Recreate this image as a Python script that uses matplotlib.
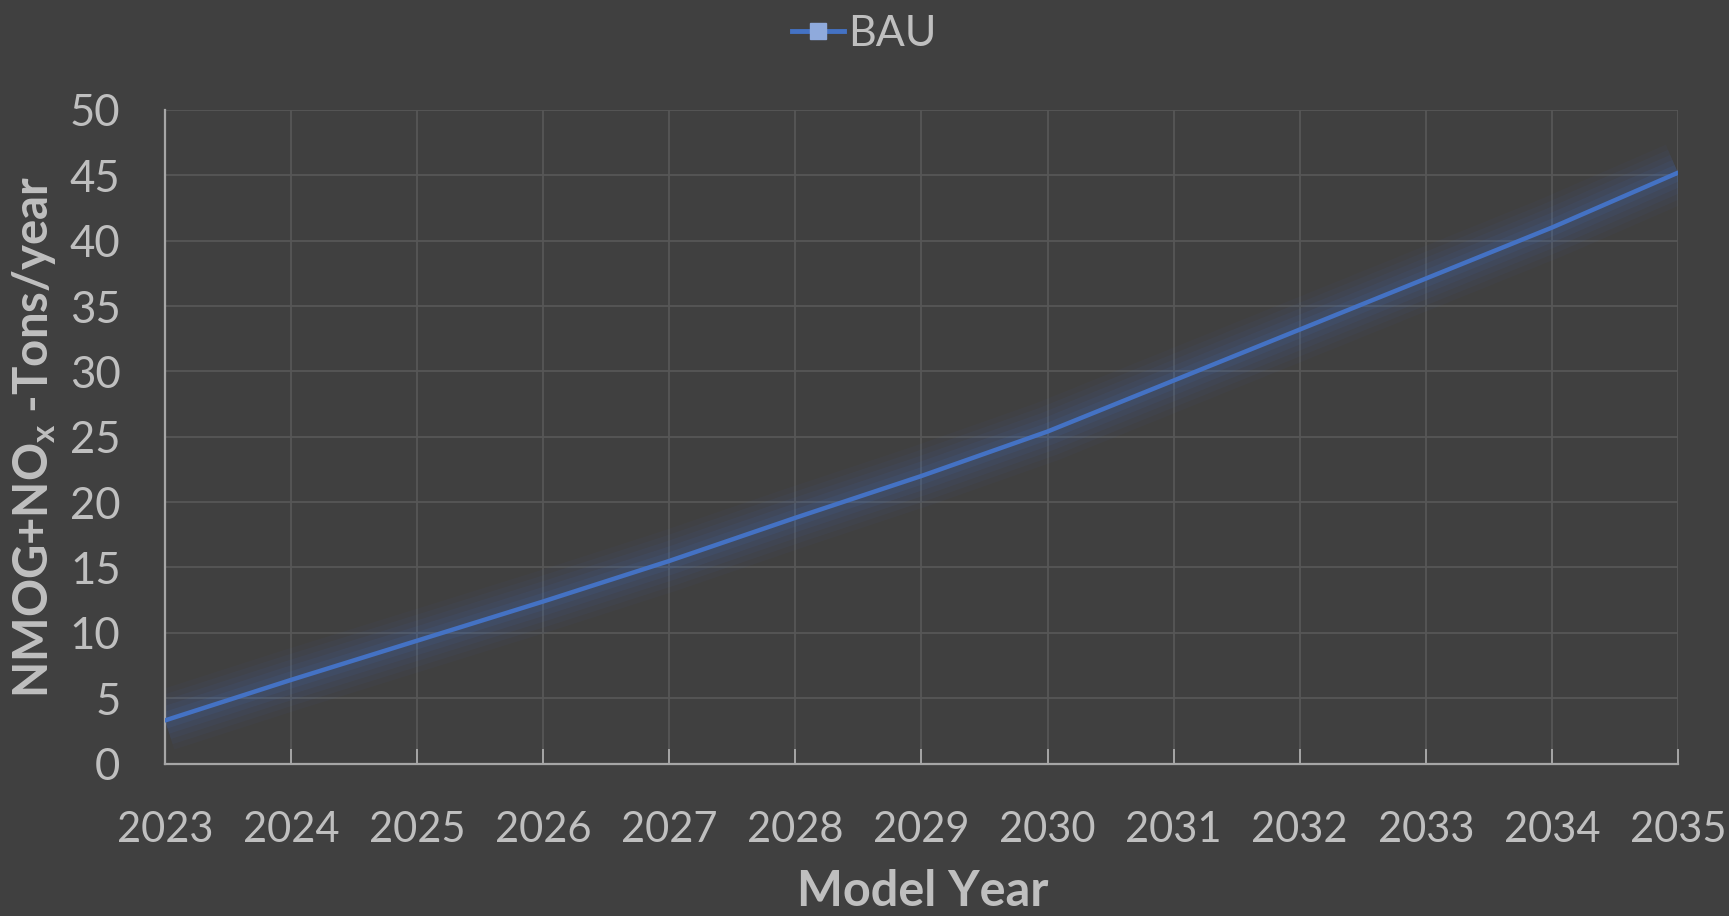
import matplotlib
matplotlib.use('Agg')
import matplotlib.pyplot as plt
from matplotlib.lines import Line2D

# values
years = [2023, 2024, 2025, 2026, 2027, 2028, 2029, 2030, 2031, 2032, 2033, 2034, 2035]
bau = [3.3, 6.4, 9.4, 12.4, 15.5, 18.8, 22.0, 25.4, 29.3, 33.2, 37.1, 41.0, 45.2]
y_ticks = [0, 5, 10, 15, 20, 25, 30, 35, 40, 45, 50]
series_name = 'BAU'

bg = '#404040'
txt = '#BFBFBF'
grid_col = '#575757'
blue = '#4472C4'

plt.rcParams['font.family'] = ['Lato', 'DejaVu Sans']
plt.rcParams['mathtext.fontset'] = 'custom'
plt.rcParams['mathtext.rm'] = 'Lato'
plt.rcParams['mathtext.default'] = 'regular'

fig = plt.figure(figsize=(17.29, 9.16), dpi=100, facecolor=bg)
ax = fig.add_axes([0.0954, 0.1664, 0.8751, 0.7136], facecolor=bg)

# soft glow under the line
for w, a in [(44, 0.04), (36, 0.05), (28, 0.06), (20, 0.08), (12, 0.10)]:
    ax.plot(years, bau, color=blue, lw=w, alpha=a, solid_capstyle='butt', zorder=2)
ax.plot(years, bau, color=blue, lw=3.2, solid_capstyle='round', zorder=3)

ax.set_xlim(years[0], years[-1])
ax.set_ylim(0, 50)
ax.set_xticks(years)
ax.set_yticks(y_ticks)

ax.grid(True, color=grid_col, lw=1.3)
ax.set_axisbelow(True)
for s in ['top', 'right']:
    ax.spines[s].set_visible(False)
for s in ['left', 'bottom']:
    ax.spines[s].set_color('#A6A6A6')
    ax.spines[s].set_linewidth(1.6)

ax.tick_params(axis='x', direction='in', length=11, width=1.4, color='#A6A6A6',
               labelsize=30, labelcolor=txt, pad=34)
ax.tick_params(axis='y', length=0, labelsize=31.5, labelcolor=txt, pad=32)

ax.set_ylabel(r'NMOG+NO$_{x}$ -Tons/year', fontsize=34, fontweight='bold', color=txt,
              va='center')
ax.yaxis.set_label_coords(-0.0866, 0.5)
fig.text(0.5337, 0.002, 'Model Year', fontsize=35, fontweight='bold', color=txt,
         ha='center', va='bottom')

handle = Line2D([], [], color=blue, lw=3.5, marker='s', markersize=12,
                markerfacecolor='#8FAADC', markeredgecolor='#8FAADC')
fig.legend([handle], [series_name], loc='upper center', bbox_to_anchor=(0.5, 1.026),
           frameon=False, fontsize=31, labelcolor=txt, handlelength=1.2,
           handletextpad=0.1)

fig.savefig('out.png', dpi=100, facecolor=bg)
